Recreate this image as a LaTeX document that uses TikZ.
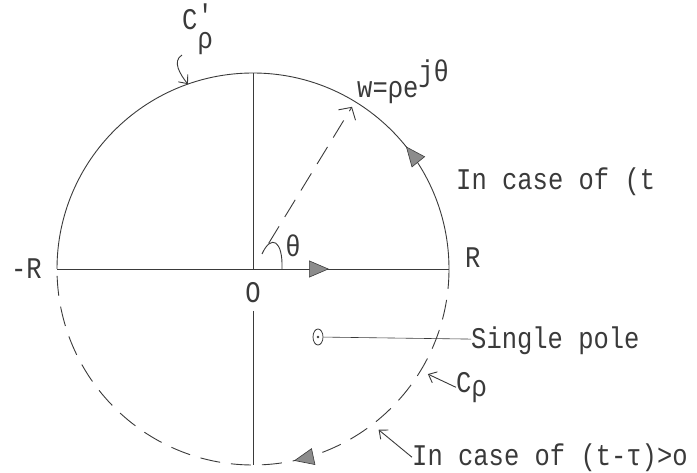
\documentclass[tikz,border=0pt]{standalone}
\usepackage{fontspec}
\setmonofont[FakeStretch=0.85]{Liberation Mono}
\usetikzlibrary{arrows.meta,positioning,calc,shapes.geometric,decorations.markings}
\definecolor{ink}{HTML}{3A3A3A}
\definecolor{shade}{HTML}{8C8C8C}
\tikzset{
  ln/.style={draw=ink,line width=0.9pt},
  dsh/.style={ln,dash pattern=on 20pt off 11pt},
  lbl/.style={font=\ttfamily\fontsize{30}{34}\selectfont,text=ink,inner sep=0pt},
  midtip/.style={postaction={decorate},decoration={markings,mark=at position #1 with {\arrow{Triangle[length=20pt,width=17pt,fill=shade,line width=0.6pt]}}}},
  ptr/.style={ln,-{Straight Barb[length=7pt,width=12pt]}},
}
\begin{document}
\begin{tikzpicture}[x=1pt,y=1pt]
\useasboundingbox (0,0) rectangle (697,472);
\coordinate (O) at (253,203);
\coordinate (pR) at ($(O)+(0:196)$);
\coordinate (mR) at ($(O)+(180:196)$);
\coordinate (top) at ($(O)+(90:196)$);
\coordinate (bot) at ($(O)+(-90:196)$);
\coordinate (wTip) at ($(O)+(58.6:190)$);
\coordinate (cpTip) at ($(O)+(109.4:196)$);
\coordinate (crTip) at ($(O)+(-31:204)$);
\coordinate (tcTip) at ($(O)+(-52:204)$);
\draw[ln,midtip=0.215] (pR) arc[start angle=0,end angle=180,radius=196];
\draw[dsh,midtip=0.433] (pR) arc[start angle=0,end angle=-180,radius=196];
\draw[ln,midtip=0.694] (mR) -- (pR);
\draw[ln] (top) -- (O);
\node[lbl,below=13pt of O] (o) {O};
\draw[ln,shorten <=8pt] (o) -- (bot);
\node[lbl,left=15pt of mR] (mRl) {-R};
\node[lbl,anchor=base west] (pRl) at (465,204) {R};
\draw[ln] (282,203) .. controls (283,232) and (271,238) .. (262,218);
\node[lbl,anchor=base] (th) at (293,215) {θ};
\draw[dsh,shorten <=30pt,-{Straight Barb[length=9pt,width=20pt]}] (O) -- (wTip);
\node[lbl,anchor=base west] (w) at (357,374) {w=ρe\raisebox{0.55em}{jθ}};
\node[lbl,anchor=base west] (cp) at (182,442) {C\rlap{\raisebox{0.15em}{'}}\raisebox{-0.62em}{ρ}};
\draw[ptr] (cp.south west) .. controls +(-10,-6) and +(-8,10) .. (cpTip);
\node[lbl,anchor=base west] (case1) at (456,282) {In case of (t};
\node[draw=ink,line width=0.8pt,ellipse,minimum width=10pt,minimum height=16pt,inner sep=0pt] (pole) at (318,135) {};
\fill[ink] (pole.center) circle (1.4pt);
\node[lbl,anchor=base west] (sp) at (471,124) {Single pole};
\draw[ln,line width=0.6pt] (pole) -- (sp);
\node[lbl,anchor=base west] (cr) at (456,80) {C\raisebox{-0.15em}{ρ}};
\draw[ptr] (cr.west) -- (crTip);
\node[lbl,anchor=base west] (tc) at (412,7) {In case of (t-τ)>o};
\draw[ptr] (tc.west) -- (tcTip);
\end{tikzpicture}
\end{document}
